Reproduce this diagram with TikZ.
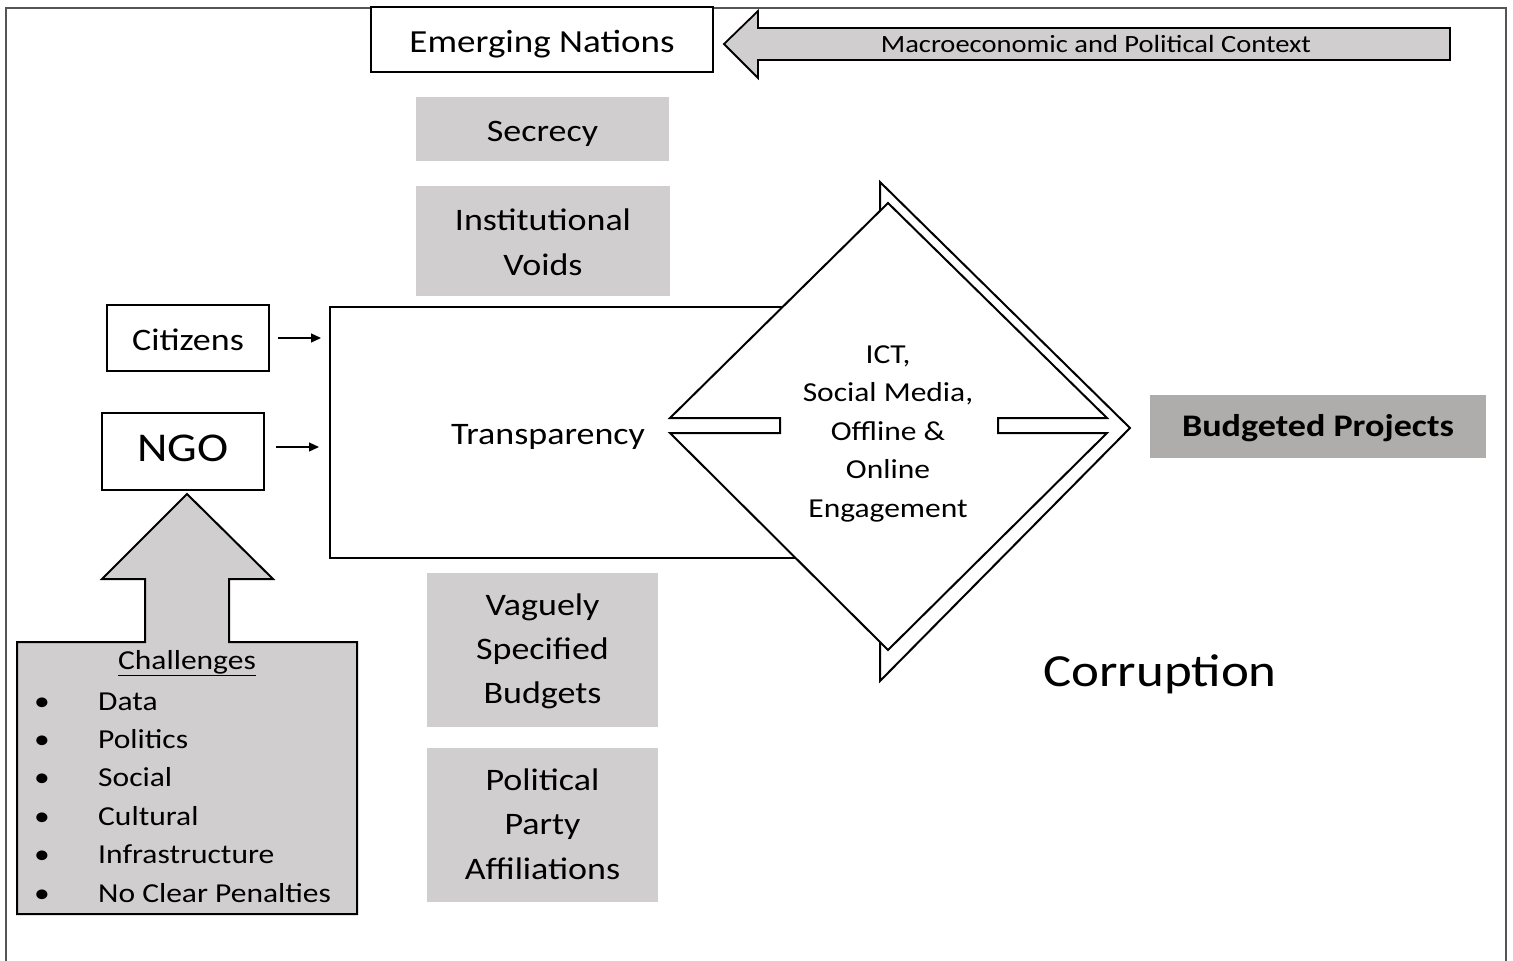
\documentclass[tikz,border=0pt]{standalone}
\usepackage{fontspec}
\setmainfont{Carlito}[FakeStretch=1.15]
\usetikzlibrary{arrows.meta}
\definecolor{lightfill}{HTML}{D0CECF}
\definecolor{darkfill}{HTML}{AFACAC}
\definecolor{framegray}{HTML}{555555}
\newcommand{\fsz}[2]{\fontsize{#1}{#2}\selectfont}
% invisible struts fixing the top of the first line and the bottom of the last line
\newcommand{\topstrut}[1]{\rule{0pt}{#1pt}}
\newcommand{\botstrut}[1]{\rule[-#1pt]{0pt}{#1pt}}
\begin{document}
\begin{tikzpicture}[x=1pt,y=-1pt,
  whitebox/.style={draw=black, line width=2pt, fill=white, inner sep=0pt, align=center},
  graybox/.style={fill=lightfill, inner sep=0pt, align=center},
  conn/.style={-{Triangle[length=10pt,width=9pt]}, line width=1.3pt},
  outline/.style={draw=black, line width=2pt, line join=miter},
  tb/.style 2 args={text height=#1pt, text depth=#2pt},
  bigtext/.style={font=\fsz{31.3}{45}},
  listtext/.style={font=\fsz{27.4}{38.5}}]
\useasboundingbox (0,0) rectangle (1513,961);

% page frame
\draw[framegray, line width=1.5pt] (6,961) -- (6,8) -- (1506,8) -- (1506,961);

% top row
\node[whitebox, tb={33.6}{8}, minimum width=342pt, minimum height=65pt, font=\fsz{32.2}{40}] (emerging) at (542,39.5) {Emerging Nations};
\draw[outline, fill=lightfill, line width=1.8pt]
  (724,44) -- (758,11) -- (758,28) -- (1450,28) -- (1450,60) -- (758,60) -- (758,78) -- cycle;
\node[font=\fsz{24.8}{30}] (context) at (1096,44) {Macroeconomic and Political Context};

% conditions above the box
\node[graybox, bigtext, tb={33.4}{8}, minimum width=253pt, minimum height=64pt] (secrecy) at (542.5,129) {Secrecy};
\node[graybox, bigtext, minimum width=254pt, minimum height=110pt] (voids) at (543,241)
  {\topstrut{31}Institutional\\Voids\botstrut{8}};

% actors
\node[whitebox, bigtext, tb={32}{8}, minimum width=162pt, minimum height=66pt] (citizens) at (188,338) {Citizens};
\node[whitebox, font=\fsz{40.9}{48}, tb={29}{10}, minimum width=162pt, minimum height=77pt] (ngo) at (183,451.5) {NGO};

% transparency box, partly hidden by the diamond
\node[draw=black, line width=2pt, fill=white, minimum width=530pt, minimum height=251pt, inner sep=0pt] (transp) at (595,432.5) {};
\node[bigtext, tb={30}{8}, inner sep=0pt] (transptext) at (548,433) {Transparency};

\draw[conn, shorten <=8pt, shorten >=8pt] (citizens.east) -- (citizens.east -| transp.west);
\draw[conn, shorten <=11pt, shorten >=10pt] ([yshift=4.5pt]ngo.east) -- ([yshift=4.5pt]ngo.east -| transp.west);

% engagement diamond with its offset outline
\fill[white] (880,182) -- (1130,428) -- (880,681) -- cycle;
\draw[outline, fill=white]
  (888,203) -- (1107,418) -- (998,418) -- (998,433) -- (1107,433) -- (888,650)
  -- (670,433) -- (780,433) -- (780,418) -- (670,418) -- cycle;
\draw[outline] (880,211) -- (880,182) -- (1130,428) -- (880,681) -- (880,642);
\node[align=center, inner sep=0pt, font=\fsz{27.4}{38.5}] (ict) at (888,431.5)
  {\topstrut{25}ICT,\\Social Media,\\Offline \&\\Online\\Engagement\botstrut{8}};

% outcomes
\node[fill=darkfill, inner sep=0pt, tb={27.5}{8}, minimum width=336pt, minimum height=63pt, font=\fsz{31.4}{36}\bfseries] (budgeted) at (1318,426.5) {Budgeted Projects};
\node[font=\fsz{46}{54}, tb={38}{12}, inner sep=0pt] (corruption) at (1160,673) {Corruption};

% conditions below the box
\node[graybox, font=\fsz{31.3}{44.2}, minimum width=231pt, minimum height=154pt] (vague) at (542.5,650)
  {\topstrut{26.4}Vaguely\\Specified\\Budgets\botstrut{8}};
\node[graybox, font=\fsz{31.3}{44.2}, minimum width=231pt, minimum height=154pt] (party) at (542.5,825)
  {\topstrut{27.8}Political\\Party\\Affiliations\botstrut{8}};

% challenges pushing up to the NGO
\draw[outline, fill=lightfill]
  (17,914) -- (17,642) -- (145,642) -- (145,579) -- (102,579) -- (187,494)
  -- (273,579) -- (229,579) -- (229,642) -- (357,642) -- (357,914) -- cycle;
\node[listtext] (chtitle) at (187,663) {\underline{Challenges}};
\foreach \t [count=\i] in {Data, Politics, Social, Cultural, Infrastructure, No Clear Penalties} {
  \node[listtext, anchor=base west, inner sep=0pt] (item\i) at (98,{710+38.4*(\i-1)}) {\t};
  \node[listtext, anchor=base, inner sep=0pt] (bullet\i) at (42,{710+38.4*(\i-1)}) {\textbullet};
}
\end{tikzpicture}
\end{document}
